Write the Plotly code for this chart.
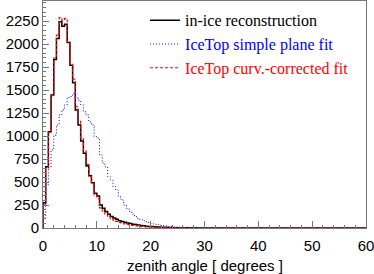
import plotly.graph_objects as go

bin_width = 0.5
n_bins = 120

in_ice = [275, 666, 1047, 1446, 1833, 2062, 2243, 2196, 2217, 2018,
          1772, 1580, 1283, 1120, 946, 812, 674, 569, 493, 377,
          348, 250, 215, 180, 150, 125, 110, 95, 80, 70,
          62, 55, 48, 42, 38, 32, 28, 24, 20, 17,
          15, 13, 11, 10, 8, 7, 6, 5, 4, 4,
          3, 3, 3, 2, 2, 2, 2, 1, 1, 1,
          1, 1, 1, 0, 1, 0, 0, 1, 0, 0,
          0, 1, 0, 0, 0, 0, 1, 0, 0, 0,
          0, 0, 0, 0, 0, 0, 0, 0, 0, 0,
          0, 0, 0, 0, 0, 0, 0, 0, 0, 0,
          0, 0, 0, 0, 0, 0, 0, 0, 0, 0,
          0, 0, 0, 0, 0, 0, 0, 0, 0, 0]

simple_plane = [110, 470, 660, 850, 1010, 1120, 1230, 1285, 1340, 1420,
                1430, 1465, 1420, 1390, 1340, 1264, 1230, 1155, 1120, 993,
                978, 793, 707, 666, 558, 522, 449, 413, 340, 304,
                250, 214, 180, 150, 123, 105, 90, 78, 68, 58,
                48, 43, 36, 30, 25, 22, 18, 15, 12, 10,
                8, 7, 6, 5, 4, 4, 3, 3, 2, 2,
                2, 1, 1, 1, 1, 1, 1, 0, 1, 0,
                0, 0, 1, 0, 0, 0, 0, 0, 0, 0,
                0, 0, 0, 0, 0, 0, 0, 0, 0, 0,
                0, 0, 0, 0, 0, 0, 0, 0, 0, 0,
                0, 0, 0, 0, 0, 0, 0, 0, 0, 0,
                0, 0, 0, 0, 0, 0, 0, 0, 0, 0]

curv_corrected = [260, 650, 1040, 1440, 1850, 2100, 2290, 2260, 2280, 2030,
                  1780, 1620, 1320, 1160, 970, 840, 690, 560, 480, 360,
                  320, 220, 185, 150, 120, 100, 85, 72, 60, 52,
                  45, 38, 32, 27, 22, 19, 16, 13, 11, 9,
                  8, 7, 6, 5, 4, 3, 3, 2, 2, 2,
                  1, 1, 1, 1, 1, 0, 1, 0, 0, 0,
                  0, 0, 0, 0, 0, 0, 0, 0, 0, 0,
                  0, 0, 0, 0, 0, 0, 0, 0, 0, 0,
                  0, 0, 0, 0, 0, 0, 0, 0, 0, 0,
                  0, 0, 0, 0, 0, 0, 0, 0, 0, 0,
                  0, 0, 0, 0, 0, 0, 0, 0, 0, 0,
                  0, 0, 0, 0, 0, 0, 0, 0, 0, 0]

series_names = ["in-ice reconstruction", "IceTop simple plane fit", "IceTop curv.-corrected fit"]
y_ticks = [0, 250, 500, 750, 1000, 1250, 1500, 1750, 2000, 2250]
x_ticks = [0, 10, 20, 30, 40, 50, 60]
x_title = "zenith angle [ degrees ]"

edges = [i * bin_width for i in range(n_bins + 1)]


def step_xy(vals):
    xs = [edges[0]] + edges
    ys = [0] + list(vals) + [vals[-1]]
    return xs, ys


fig = go.Figure()
styles = [
    ("black", 1.5, "solid", in_ice),
    ("#0000ff", 1.0, "1px,2px", simple_plane),
    ("#ff0000", 1.2, "3px,2px", curv_corrected),
]
for name, (col, w, dash, vals) in zip(series_names, styles):
    xs, ys = step_xy(vals)
    fig.add_trace(go.Scatter(
        x=xs, y=ys, mode="lines", line_shape="hv",
        line=dict(color=col, width=w, dash=dash),
        name=f"<span style='color:{col}'>{name}</span>",
    ))

axis_common = dict(
    showline=True, linecolor="#777", linewidth=1, mirror=True,
    ticks="inside", tickcolor="#777", showgrid=False, zeroline=False,
    automargin=False, ticklabeloverflow="allow",
    tickfont=dict(family="Liberation Sans", size=15, color="black"),
)
fig.update_xaxes(
    range=[0, 60], tickvals=x_ticks, ticklen=7, ticklabelstandoff=4,
    minor=dict(dtick=2, ticks="inside", ticklen=3, tickcolor="#777"),
    **axis_common,
)
fig.update_yaxes(
    range=[0, 2470], tickvals=y_ticks, ticklen=6,
    minor=dict(dtick=50, ticks="inside", ticklen=3, tickcolor="#777"),
    **axis_common,
)
fig.update_layout(
    width=374, height=274,
    margin=dict(l=43, r=8, t=1, b=46),
    paper_bgcolor="white", plot_bgcolor="white",
    showlegend=True,
    legend=dict(x=0.316, y=0.99, xanchor="left", yanchor="top",
                bgcolor="rgba(0,0,0,0)", borderwidth=0,
                font=dict(family="Liberation Serif", size=16, color="black"),
                tracegroupgap=0, traceorder="normal"),
    annotations=[dict(text=x_title, xref="paper", yref="paper",
                      x=0.5, y=-0.165, xanchor="center", yanchor="middle",
                      showarrow=False,
                      font=dict(family="Liberation Sans", size=15, color="black"))],
)
fig.write_html("out.html", config={"displayModeBar": False},
               post_script="document.body.style.margin='0';document.body.style.padding='0';")
